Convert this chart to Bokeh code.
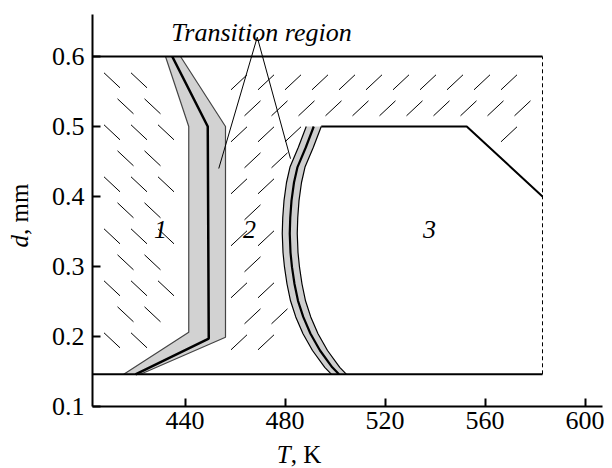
import numpy as np
from bokeh.plotting import figure
from bokeh.models import Range1d, Label, FixedTicker, Div
from bokeh.layouts import row, column
from bokeh.embed import file_html
from bokeh.resources import INLINE

# ---------------- data ----------------
x_ticks = [440, 480, 520, 560, 600]
y_ticks = [0.1, 0.2, 0.3, 0.4, 0.5, 0.6]
x_lim = (403, 607)
y_lim = (0.1, 0.66)

d_top = 0.6
d_bottom = 0.146
T_right = 583

# upper boundary of region 3 (right of the curved band)
reg3_T = [552.7, 583]
reg3_d = [0.5, 0.40]

# left transition band (left edge, centre line, right edge)
band1_left_T = [432.2, 441.5, 441.5, 415.5]
band1_left_d = [0.6, 0.5, 0.206, 0.146]
band1_mid_T = [434.9, 449.1, 449.5, 420.2]
band1_mid_d = [0.6, 0.5, 0.197, 0.146]
band1_right_T = [438.2, 456.2, 456.2, 422.2]
band1_right_d = [0.6, 0.5, 0.199, 0.146]

# curved transition band: centre line and half width (K)
curve_d = [0.5, 0.47, 0.442, 0.42, 0.394, 0.37, 0.347, 0.32, 0.299, 0.275,
           0.251, 0.228, 0.204, 0.18, 0.156, 0.146]
curve_T = [491.5, 488.3, 485.0, 483.6, 482.6, 482.1, 481.9, 482.2, 482.8, 483.8,
           485.2, 487.3, 490.2, 494.0, 498.9, 501.6]
curve_hw = 3.0

# annotation "Transition region"
ann_apex = (468.9, 0.6276)
ann_ends_T = [453.5, 482.2]
ann_ends_d = [0.44, 0.454]
ann_text_pos = (470.6, 0.634)

region_labels = ["1", "2", "3"]
region_T = [430.2, 465.8, 537.8]
region_d = [0.353, 0.353, 0.353]

FONT = "Liberation Serif"

# ---------------- figure ----------------
YW = 40                       # width of the y-title strip
W, H = 612 - YW, 445
BL, BR, BT, BB = 52, 10, 14, 39
FW, FH = W - BL - BR, H - BT - BB

p = figure(width=W, height=H, output_backend="svg", toolbar_location=None,
           x_range=Range1d(*x_lim), y_range=Range1d(*y_lim),
           min_border_left=BL, min_border_right=BR, min_border_top=BT,
           min_border_bottom=BB, margin=0)
p.outline_line_color = None
p.xgrid.visible = False
p.ygrid.visible = False
p.background_fill_color = "white"

for ax in (p.xaxis[0], p.yaxis[0]):
    ax.axis_line_width = 2
    ax.axis_line_color = "black"
    ax.major_tick_in = 8
    ax.major_tick_out = 0
    ax.major_tick_line_width = 2
    ax.minor_tick_line_color = None
    ax.major_label_text_font = FONT
    ax.major_label_text_font_size = "26px"
    ax.major_label_text_color = "black"
p.xaxis.ticker = FixedTicker(ticks=x_ticks)
p.yaxis.ticker = FixedTicker(ticks=y_ticks)
p.yaxis.major_label_overrides = {t: f"{t:.1f}" for t in y_ticks}
p.xaxis.major_label_standoff = 5
p.yaxis.major_label_standoff = 8

# ---------------- hatch texture helpers ----------------
sx = FW / (x_lim[1] - x_lim[0])
sy = FH / (y_lim[1] - y_lim[0])


def to_px(T, d):
    return (np.asarray(T, float) - x_lim[0]) * sx, (np.asarray(d, float) - y_lim[0]) * sy


def inside(px, py, x, y):
    c = False
    n = len(px)
    j = n - 1
    for i in range(n):
        xi, yi, xj, yj = px[i], py[i], px[j], py[j]
        if (yi > y) != (yj > y):
            if x < (xj - xi) * (y - yi) / (yj - yi) + xi:
                c = not c
        j = i
    return c


def hatch(polyT, polyd, sign, dx=27.0, dy=26.0, hx=8.0, hy=7.5, ox=6.0, oy=8.0):
    px, py = to_px(polyT, polyd)
    xs0, ys0, xs1, ys1 = [], [], [], []
    for k, yc in enumerate(np.arange(py.min() + oy, py.max(), dy)):
        shift = (k % 2) * dx / 2
        for xc in np.arange(px.min() + ox + shift, px.max(), dx):
            f = 1.45
            ok = (inside(px, py, xc, yc)
                  and inside(px, py, xc - f * hx, yc - sign * f * hy)
                  and inside(px, py, xc + f * hx, yc + sign * f * hy))
            if ok:
                xs0.append((xc - hx) / sx + x_lim[0]); ys0.append((yc - sign * hy) / sy + y_lim[0])
                xs1.append((xc + hx) / sx + x_lim[0]); ys1.append((yc + sign * hy) / sy + y_lim[0])
    return xs0, ys0, xs1, ys1


cT = np.asarray(curve_T, float)
cd = np.asarray(curve_d, float)

# region 1 polygon
r1_T = [x_lim[0]] + band1_left_T + [x_lim[0]]
r1_d = [d_top] + band1_left_d + [d_bottom]
# region 2 polygon
r2_T = ([T_right] + reg3_T[::-1] + [cT[0] + curve_hw] + list(cT - curve_hw)
        + band1_right_T[::-1])
r2_d = ([d_top] + reg3_d[::-1] + [cd[0]] + list(cd) + band1_right_d[::-1])

h1 = hatch(r1_T, r1_d, -1)
h2 = hatch(r2_T, r2_d, +1, ox=4.0, oy=6.0)
for h in (h1, h2):
    p.segment(h[0], h[1], h[2], h[3], line_color="black", line_width=1)

# ---------------- transition bands ----------------
p.patch(band1_left_T + band1_right_T[::-1], band1_left_d + band1_right_d[::-1],
        fill_color="#d2d2d2", line_color=None)
p.line(band1_left_T, band1_left_d, line_color="#444444", line_width=1.2)
p.line(band1_right_T, band1_right_d, line_color="#444444", line_width=1.2)
p.line(band1_mid_T, band1_mid_d, line_color="black", line_width=2.5)

p.patch(list(cT - curve_hw) + list((cT + curve_hw)[::-1]), list(cd) + list(cd[::-1]),
        fill_color="#cfcfcf", line_color=None)
p.line(list(cT - curve_hw), list(cd), line_color="black", line_width=1.2)
p.line(list(cT + curve_hw), list(cd), line_color="black", line_width=1.2)
p.line(curve_T, curve_d, line_color="black", line_width=2.2)

# ---------------- boundaries ----------------
p.line([cT[0] + curve_hw] + reg3_T, [cd[0]] + reg3_d, line_color="black", line_width=2)
p.line([x_lim[0], T_right], [d_top, d_top], line_color="black", line_width=2)
p.line([x_lim[0], T_right], [d_bottom, d_bottom], line_color="black", line_width=2)
p.line([T_right, T_right], [d_bottom, d_top], line_color="black", line_width=1,
       line_dash="4 3")

# ---------------- annotations ----------------
for eT, ed in zip(ann_ends_T, ann_ends_d):
    p.line([ann_apex[0], eT], [ann_apex[1], ed], line_color="black", line_width=1)
p.add_layout(Label(x=ann_text_pos[0], y=ann_text_pos[1], text="Transition region",
                   text_align="center", text_baseline="alphabetic", text_color="black",
                   text_font=FONT, text_font_style="italic", text_font_size="26px"))
for t, xx, yy in zip(region_labels, region_T, region_d):
    p.add_layout(Label(x=xx, y=yy, text=t, text_align="center", text_baseline="middle",
                       text_color="black", text_font=FONT, text_font_style="italic",
                       text_font_size="26px"))

# ---------------- axis titles (italic symbol + upright unit) ----------------
y_title = Div(
    text=('<div style="width:%dpx;height:430px;display:flex;align-items:center;'
          'justify-content:center;"><div style="transform:rotate(-90deg);white-space:nowrap;'
          "font-family:'Liberation Serif';font-size:25px;line-height:25px;color:black;\">"
          '<i>d</i>, mm</div></div>') % YW,
    width=YW, height=H, margin=0)
x_title = Div(
    text=('<div style="width:598px;height:20px;display:flex;justify-content:center;'
          "font-family:'Liberation Serif';font-size:25px;line-height:20px;color:black;"
          'white-space:nowrap;"><span><i>T</i>, K</span></div>'),
    width=612, height=20, margin=0)

layout = column(row(y_title, p, spacing=0), x_title, spacing=0)

open("out.html", "w").write(file_html(layout, INLINE))
